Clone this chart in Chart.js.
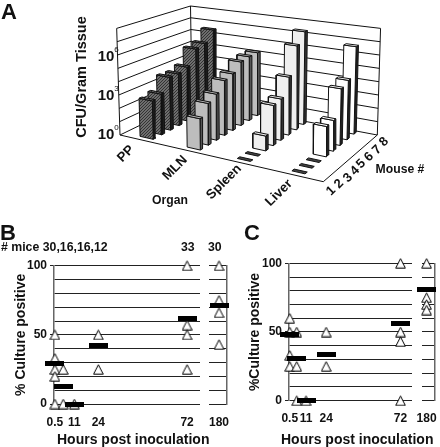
<!DOCTYPE html>
<html lang="en">
<head>
<meta charset="UTF-8">
<title>CFU and culture positive</title>
<script src="https://cdn.jsdelivr.net/npm/chart.js"></script>
<style>
  body { margin: 0; background: #fff; width: 440px; height: 447px; position: relative; overflow: hidden;
         font-family: "Liberation Sans", Arial, sans-serif; font-weight: bold; color: #111; }
  canvas { position: absolute; }
  .txt { position: absolute; white-space: nowrap; line-height: 1; }
</style>
</head>
<body>
<canvas id="chartA" width="440" height="215" style="left:0;top:0"></canvas>
<canvas id="chartBl" width="205" height="232" style="left:0;top:215px"></canvas>
<canvas id="chartBr" width="32" height="232" style="left:200px;top:215px"></canvas>
<canvas id="chartCl" width="187" height="232" style="left:230px;top:215px"></canvas>
<canvas id="chartCr" width="23" height="232" style="left:417px;top:215px"></canvas>

<div class="txt" style="left:1px;top:1px;font-size:22px">A</div>
<div class="txt" style="left:0;top:222px;font-size:22px">B</div>
<div class="txt" style="left:244px;top:222px;font-size:22px">C</div>
<div class="txt" style="left:1px;top:241px;font-size:12.3px">&#35; mice 30,16,16,12</div>
<div class="txt" style="left:181px;top:241px;font-size:12.3px">33</div>
<div class="txt" style="left:208px;top:241px;font-size:12.3px">30</div>
<div class="txt" style="left:57px;top:432px;font-size:14px">Hours post inoculation</div>
<div class="txt" style="left:281px;top:432px;font-size:14px">Hours post inoculation</div>

<script>
  // panel A, log10 CFU per gram, one value per mouse
  const organs = ['PP', 'MLN', 'Spleen', 'Liver'];
  const mice = ['1', '2', '3', '4', '5', '6', '7', '8'];
  const ppLog = [2.85, 3.06, 4.04, 4.01, 4.25, 5.4, 5.57, 6.4];
  const mlnLog = [2.26, 3.05, 3.42, 4.13, 4.33, 4.94, 5.04, 5.05];
  const spleenLog = [0, 0, 1.07, 2.94, 3.07, 4.37, 6.43, 7.22];
  const liverLog = [0, 0, 0, 2.15, 2.21, 4.14, 4.41, 6.59];

  // panel B, triangles are single experiments, means are the black bars
  const bHours = [0.5, 0.5, 0.5, 0.5, 0.5, 5, 5, 11, 24, 24, 72, 72, 72, 72, 180, 180, 180, 180];
  const bValues = [50, 33, 25, 20, 0, 25, 0, 0, 50, 25, 100, 57, 50, 25, 100, 75, 66, 43];
  const bMeanHours = [0.5, 5, 11, 24, 72, 180];
  const bMeans = [29, 12.5, 0, 42, 62, 71];

  // panel C
  const cHours = [0.5, 0.5, 0.5, 0.5, 5, 5, 5, 11, 24, 24, 72, 72, 72, 72, 180, 180, 180, 180];
  const cValues = [60, 50, 33, 25, 50, 25, 0, 0, 50, 25, 100, 50, 43, 0, 100, 75, 70, 66];
  const cMeanHours = [0.5, 5, 11, 24, 72, 180];
  const cMeans = [48.5, 31, 0, 33.5, 56.5, 81];

  const hourTicks = [0.5, 11, 24, 72];
  const breakTicks = [180];
  const percentTicks = [0, 10, 20, 30, 40, 50, 60, 70, 80, 90, 100];

  Chart.defaults.font.family = '"Liberation Sans", Arial, sans-serif';
  Chart.defaults.font.weight = 'bold';
  Chart.defaults.color = '#111';

  // ---- panel A: floor corners and wall heights of the 3D box
  const FL = [120, 135], FR = [323.3, 181.7], BL = [192, 100], BR = [377.3, 135];
  const organStart = [0.077, 0.31, 0.558, 0.828];

  function project(u, v, w) {
    const mix = (a, b, c, d) => a * (1 - u) * (1 - v) + b * u * (1 - v) + c * (1 - u) * v + d * u * v;
    let x = mix(FL[0], FR[0], BL[0], BR[0]);
    let y = mix(FL[1], FR[1], BL[1], BR[1]);
    const s = mix(13.33, 15, 11.75, 13.33);
    x += (x - 250) * w * 0.0032;
    y -= s * w;
    return { x: x, y: y };
  }

  function hatch() {
    const c = document.createElement('canvas');
    c.width = 3; c.height = 3;
    const g = c.getContext('2d');
    g.fillStyle = '#6e6e6e';
    g.fillRect(0, 0, 3, 3);
    g.fillStyle = '#333';
    g.fillRect(0, 2, 1, 1); g.fillRect(1, 1, 1, 1); g.fillRect(2, 0, 1, 1);
    return g.createPattern(c, 'repeat');
  }

  function shape(points, fill, width) {
    return {
      data: fill ? points.concat([points[0]]) : points,
      showLine: true,
      fill: fill ? 'shape' : false,
      backgroundColor: fill,
      borderColor: '#111',
      borderWidth: width || 1,
      pointRadius: 0,
      tension: 0,
      clip: false
    };
  }

  const painted = [];
  for (let w = 0; w <= 8; w++) {
    painted.push(shape([project(0, 0, w), project(0, 1, w), project(1, 1, w)]));
  }
  painted.push(shape([project(0, 0, 0), project(0, 0, 8)]));
  painted.push(shape([project(0, 1, 0), project(0, 1, 8)]));
  painted.push(shape([project(1, 1, 0), project(1, 1, 8)]));
  painted.push(shape([project(0, 0, 0), project(1, 0, 0), project(1, 1, 0)]));

  const organValues = [ppLog, mlnLog, spleenLog, liverLog];
  const faceColors = [hatch(), '#bdbdbd', '#efefef', '#ffffff'];
  const sideColors = ['#1c1c1c', '#555', '#333', '#222'];
  for (let j = mice.length - 1; j >= 0; j--) {
    organValues.forEach(function (values, i) {
      const u0 = organStart[i], u1 = u0 + 0.065;
      const v0 = (j + 0.5) / 8, v1 = v0 + 0.04;
      const h = values[j];
      if (h === 0) {
        painted.push(shape([project(u0, v0, 0), project(u1, v0, 0), project(u1, v1, 0), project(u0, v1, 0)], '#444'));
        return;
      }
      painted.push(shape([project(u1, v0, 0), project(u1, v1, 0), project(u1, v1, h), project(u1, v0, h)], sideColors[i]));
      painted.push(shape([project(u0, v0, 0), project(u1, v0, 0), project(u1, v0, h), project(u0, v0, h)], faceColors[i]));
      painted.push(shape([project(u0, v0, h), project(u1, v0, h), project(u1, v1, h), project(u0, v1, h)], faceColors[i]));
    });
  }

  const organPlaces = [[126, 154], [175, 168], [224, 182], [279, 193]];
  const mousePlaces = [[331, 191], [339, 184], [348, 178], [355, 171], [361, 164], [369, 157], [377, 150], [384, 142]];

  function label(ctx, text, x, y, size, angle, weight) {
    ctx.save();
    ctx.translate(x, y);
    ctx.rotate(angle || 0);
    ctx.font = (weight || 'bold') + ' ' + size + 'px "Liberation Sans", Arial, sans-serif';
    ctx.fillStyle = '#111';
    ctx.textAlign = 'center';
    ctx.textBaseline = 'middle';
    ctx.fillText(text, 0, 0);
    ctx.restore();
  }

  const boxLabels = {
    id: 'boxLabels',
    afterDraw(chart) {
      const ctx = chart.ctx;
      organs.forEach((name, i) => label(ctx, name, organPlaces[i][0], organPlaces[i][1], 13.3, -Math.PI / 4));
      mice.forEach((name, i) => label(ctx, name, mousePlaces[i][0], mousePlaces[i][1], 13, -Math.PI / 4));
      label(ctx, 'Organ', 170, 201, 12.2);
      label(ctx, 'Mouse #', 400, 170, 12.2);
      label(ctx, 'CFU/Gram Tissue', 81.5, 77, 14.5, -Math.PI / 2);
      [[0, 135], [3, 96], [6, 56.5]].forEach(function (t) {
        label(ctx, '10', 106, t[1], 15);
        label(ctx, String(t[0]), 116.5, t[1] - 7, 8, 0, 'normal');
      });
    }
  };

  new Chart(document.getElementById('chartA'), {
    type: 'scatter',
    data: { datasets: painted.reverse() },
    options: {
      responsive: false,
      animation: false,
      layout: { padding: 0 },
      plugins: { legend: { display: false }, tooltip: { enabled: false } },
      scales: {
        x: { display: false, min: 0, max: 440 },
        y: { display: false, min: 0, max: 215, reverse: true }
      }
    },
    plugins: [boxLabels]
  });

  // ---- panels B and C
  function triangleMark() {
    const c = document.createElement('canvas');
    c.width = 11; c.height = 11;
    const g = c.getContext('2d');
    g.fillStyle = '#fff';
    g.strokeStyle = '#000';
    g.lineWidth = 1;
    g.beginPath();
    g.moveTo(5.5, 0.8);
    g.lineTo(10.3, 10.2);
    g.lineTo(0.7, 10.2);
    g.closePath();
    g.fill();
    g.stroke();
    return c;
  }

  function meanMark() {
    const c = document.createElement('canvas');
    c.width = 19; c.height = 5;
    const g = c.getContext('2d');
    g.fillStyle = '#000';
    g.fillRect(0, 0, 19, 5);
    return c;
  }

  const triangle = triangleMark();
  const mean = meanMark();

  function pick(xs, ys, keep) {
    const out = [];
    xs.forEach(function (x, i) { if (keep(x)) out.push({ x: x, y: ys[i] }); });
    return out;
  }

  function panel(id, opt) {
    const keep = opt.right ? (h) => h === 180 : (h) => h !== 180;
    new Chart(document.getElementById(id), {
      type: 'scatter',
      data: {
        datasets: [
          { data: pick(opt.meanHours, opt.means, keep), pointStyle: mean, clip: false },
          { data: pick(opt.hours, opt.values, keep), pointStyle: triangle, clip: false }
        ]
      },
      options: {
        responsive: false,
        animation: false,
        layout: { padding: { top: opt.top, bottom: 0, left: opt.right ? opt.inset : 0, right: opt.right ? 0 : opt.inset } },
        plugins: { legend: { display: false }, tooltip: { enabled: false } },
        scales: {
          x: {
            type: 'linear',
            min: opt.min,
            max: opt.max,
            afterBuildTicks: (s) => { s.ticks = opt.ticks.map((v) => ({ value: v })); },
            afterFit: (s) => { s.height = opt.below; s.paddingLeft = 0; s.paddingRight = 0; },
            grid: { display: false, drawTicks: false },
            border: { display: false },
            ticks: { autoSkip: false, maxRotation: 0, padding: 11, font: { size: 12 }, color: '#111' }
          },
          y: {
            position: opt.right ? 'right' : 'left',
            min: 0,
            max: 100,
            afterBuildTicks: (s) => { s.ticks = percentTicks.map((v) => ({ value: v })); },
            afterFit: (s) => { s.width = opt.axis; s.paddingTop = 0; s.paddingBottom = 0; },
            border: { color: '#666', width: 1.5 },
            grid: {
              color: '#222',
              lineWidth: 1,
              drawTicks: !opt.right,
              tickLength: 4,
              tickColor: (c) => (c.tick && c.tick.value % 50 === 0 ? '#222' : 'rgba(0,0,0,0)')
            },
            title: opt.right ? { display: false } : {
              display: true, text: opt.title, font: { size: 14 }, color: '#111',
              padding: { top: opt.titleGap, bottom: 0 }
            },
            ticks: {
              autoSkip: false,
              display: !opt.right,
              padding: 3,
              font: { size: 12 },
              color: '#111',
              callback: (v) => (v % 50 === 0 ? v : '')
            }
          }
        }
      }
    });
  }

  panel('chartBl', { hours: bHours, values: bValues, meanHours: bMeanHours, means: bMeans, ticks: hourTicks,
    min: 0, max: 79, top: 50.7, below: 43, axis: 54, inset: 5, title: '% Culture positive', titleGap: 13 });
  panel('chartBr', { right: true, hours: bHours, values: bValues, meanHours: bMeanHours, means: bMeans, ticks: breakTicks,
    min: 174.6, max: 184.3, top: 50.7, below: 43, axis: 5, inset: 9 });
  panel('chartCl', { hours: cHours, values: cValues, meanHours: cMeanHours, means: cMeans, ticks: hourTicks,
    min: 0, max: 79.4, top: 48.3, below: 46.3, axis: 59, inset: 5, title: '%Culture positive', titleGap: 17 });
  panel('chartCr', { right: true, hours: cHours, values: cValues, meanHours: cMeanHours, means: cMeans, ticks: breakTicks,
    min: 176.9, max: 185.7, top: 48.3, below: 46.3, axis: 4, inset: 5 });
</script>
</body>
</html>
